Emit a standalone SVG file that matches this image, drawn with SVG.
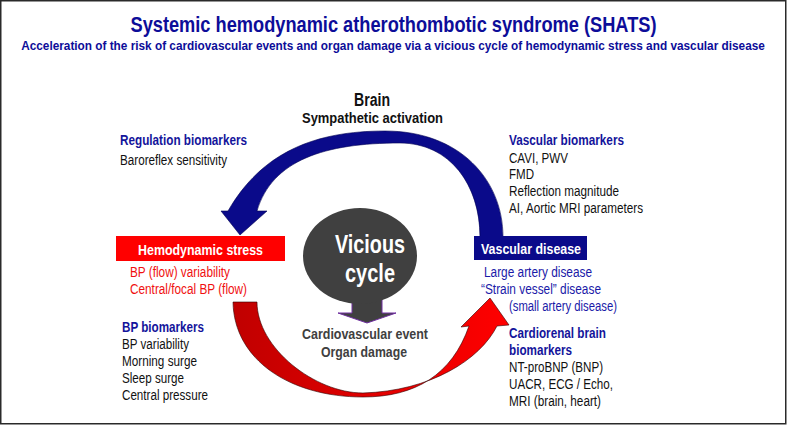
<svg xmlns="http://www.w3.org/2000/svg" width="787" height="426" viewBox="0 0 787 426">
<style>
text{font-family:"Liberation Sans",Arial,sans-serif;}
.ttl{font-size:22px;font-weight:bold;fill:#0d0d99;}
.sub{font-size:13px;font-weight:bold;fill:#0d0d99;}
.hd{font-size:14px;font-weight:bold;fill:#14149b;}
.bk{font-size:14px;fill:#111;}
.blk{font-weight:bold;fill:#111;}
.red{font-size:14px;fill:#f01010;}
.blu{font-size:14px;fill:#1a1aa8;}
.box{font-size:15px;font-weight:bold;fill:#fff;}
.vc{font-size:26px;font-weight:bold;fill:#fff;}
.out{font-size:15px;font-weight:bold;fill:#404040;}
</style>
<defs>
<linearGradient id="redg" x1="0" y1="0" x2="1" y2="0">
<stop offset="0" stop-color="#c00000"/>
<stop offset="0.5" stop-color="#e00000"/>
<stop offset="1" stop-color="#ff0000"/>
</linearGradient>
</defs>
<rect x="0" y="0" width="787" height="426" fill="#fff"/>
<rect x="0.75" y="0.75" width="785" height="423" fill="none" stroke="#2a2a2a" stroke-width="1.5"/>

<g id="title">
<text class="ttl" x="393.5" y="32" text-anchor="middle" textLength="526" lengthAdjust="spacingAndGlyphs">Systemic hemodynamic atherothombotic syndrome (SHATS)</text>
<text class="sub" transform="translate(393,50) scale(0.83,1)" x="0" y="0" text-anchor="middle" textLength="896" lengthAdjust="spacingAndGlyphs">Acceleration of the risk of cardiovascular events and organ damage via a vicious cycle of hemodynamic stress and vascular disease</text>
</g>

<g id="connectors">
<path id="brain-arrow" d="M503,237 C503,180 460,131 385,131 C315,131 262,152 228,211 L221,211 L240,235 L267,211 L257,211 C272,160 325,143 400,143 C450,143 480,185 480,237 Z" fill="#0a0a8a" stroke="#000050" stroke-width="0.6"/>
<path id="stress-arrow" d="M233,302 C234,360 290,397 363,397 C415,397 452,375 469,326 L461,327 L490,298 L509,325 L497,326 C480,360 430,391 363,393 C315,393 257,348 257,302 Z" fill="url(#redg)" stroke="#300000" stroke-width="0.6"/>
<path id="outcome-arrow" d="M352,296 L382,296 L382,313 L396,313 L367,323 L338,313 L352,313 Z" fill="#404040" stroke="#7030a0" stroke-width="1"/>
</g>

<g id="brain">
<text class="blk" x="372" y="106" text-anchor="middle" font-size="18" textLength="36" lengthAdjust="spacingAndGlyphs">Brain</text>
<text class="blk" x="372.5" y="123" text-anchor="middle" font-size="15" textLength="141" lengthAdjust="spacingAndGlyphs">Sympathetic activation</text>
</g>

<g id="regulation-biomarkers">
<text class="hd" x="120" y="145" textLength="127" lengthAdjust="spacingAndGlyphs">Regulation biomarkers</text>
<text class="bk" x="120" y="165" textLength="107" lengthAdjust="spacingAndGlyphs">Baroreflex sensitivity</text>
</g>

<g id="vascular-biomarkers">
<text class="hd" x="509" y="145" textLength="115" lengthAdjust="spacingAndGlyphs">Vascular biomarkers</text>
<text class="bk" x="509" y="163" textLength="59" lengthAdjust="spacingAndGlyphs">CAVI, PWV</text>
<text class="bk" x="509" y="179" textLength="25" lengthAdjust="spacingAndGlyphs">FMD</text>
<text class="bk" x="509" y="196" textLength="110" lengthAdjust="spacingAndGlyphs">Reflection magnitude</text>
<text class="bk" x="509" y="213" textLength="134" lengthAdjust="spacingAndGlyphs">AI, Aortic MRI parameters</text>
</g>

<g id="hemodynamic-stress">
<rect x="116" y="236" width="169" height="25" fill="#ff0000"/>
<text class="box" x="200.5" y="255" text-anchor="middle" textLength="125" lengthAdjust="spacingAndGlyphs">Hemodynamic stress</text>
<text class="red" x="130" y="277" textLength="100" lengthAdjust="spacingAndGlyphs">BP (flow) variability</text>
<text class="red" x="130" y="294" textLength="117" lengthAdjust="spacingAndGlyphs">Central/focal BP (flow)</text>
</g>

<g id="vascular-disease">
<rect x="474" y="236" width="113" height="24" fill="#0a0a8a"/>
<text class="box" x="531" y="254" text-anchor="middle" textLength="100" lengthAdjust="spacingAndGlyphs">Vascular disease</text>
<text class="blu" x="484" y="277" textLength="108" lengthAdjust="spacingAndGlyphs">Large artery disease</text>
<text class="blu" x="481" y="294" textLength="120" lengthAdjust="spacingAndGlyphs">“Strain vessel” disease</text>
<text class="blu" x="509" y="311" textLength="108" lengthAdjust="spacingAndGlyphs">(small artery disease)</text>
</g>

<g id="vicious-cycle">
<ellipse cx="360" cy="256" rx="57" ry="48" fill="#404040"/>
<text class="vc" x="370" y="253" text-anchor="middle" textLength="70" lengthAdjust="spacingAndGlyphs">Vicious</text>
<text class="vc" x="370" y="282" text-anchor="middle" textLength="50" lengthAdjust="spacingAndGlyphs">cycle</text>
</g>

<g id="outcome">
<text class="out" x="365" y="339" text-anchor="middle" textLength="126" lengthAdjust="spacingAndGlyphs">Cardiovascular event</text>
<text class="out" x="364" y="357" text-anchor="middle" textLength="86" lengthAdjust="spacingAndGlyphs">Organ damage</text>
</g>

<g id="bp-biomarkers">
<text class="hd" x="122" y="332" textLength="82" lengthAdjust="spacingAndGlyphs">BP biomarkers</text>
<text class="bk" x="122" y="349" textLength="67" lengthAdjust="spacingAndGlyphs">BP variability</text>
<text class="bk" x="122" y="366" textLength="75" lengthAdjust="spacingAndGlyphs">Morning surge</text>
<text class="bk" x="122" y="383" textLength="62" lengthAdjust="spacingAndGlyphs">Sleep surge</text>
<text class="bk" x="122" y="400" textLength="86" lengthAdjust="spacingAndGlyphs">Central pressure</text>
</g>

<g id="cardiorenal-biomarkers">
<text class="hd" x="509" y="338" textLength="97" lengthAdjust="spacingAndGlyphs">Cardiorenal brain</text>
<text class="hd" x="509" y="355" textLength="63" lengthAdjust="spacingAndGlyphs">biomarkers</text>
<text class="bk" x="509" y="372" textLength="94" lengthAdjust="spacingAndGlyphs">NT-proBNP (BNP)</text>
<text class="bk" x="509" y="389" textLength="104" lengthAdjust="spacingAndGlyphs">UACR, ECG / Echo,</text>
<text class="bk" x="509" y="406" textLength="92" lengthAdjust="spacingAndGlyphs">MRI (brain, heart)</text>
</g>
</svg>
